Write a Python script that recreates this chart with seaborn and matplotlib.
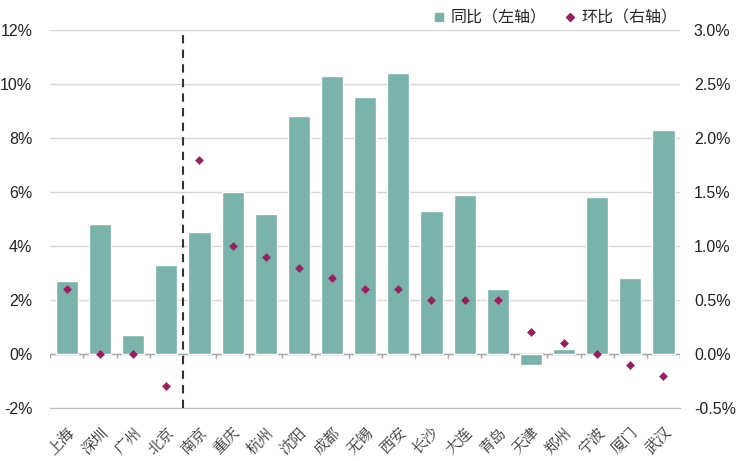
import numpy as np
import pandas as pd
import matplotlib
matplotlib.use("Agg")
import matplotlib.pyplot as plt
import seaborn as sns
from matplotlib.lines import Line2D

# 城市与数据（同比：左轴，环比：右轴，单位 %）
cities = ["上海", "深圳", "广州", "北京", "南京", "重庆", "杭州", "沈阳", "成都", "无锡",
          "西安", "长沙", "大连", "青岛", "天津", "郑州", "宁波", "厦门", "武汉"]
yoy = [2.7, 4.8, 0.7, 3.3, 4.5, 6.0, 5.2, 8.8, 10.3, 9.5,
       10.4, 5.3, 5.9, 2.4, -0.4, 0.2, 5.8, 2.8, 8.3]
mom = [0.6, 0.0, 0.0, -0.3, 1.8, 1.0, 0.9, 0.8, 0.7, 0.6,
       0.6, 0.5, 0.5, 0.5, 0.2, 0.1, 0.0, -0.1, -0.2]
left_ticks = [-2, 0, 2, 4, 6, 8, 10, 12]
right_ticks = [-0.5, 0.0, 0.5, 1.0, 1.5, 2.0, 2.5, 3.0]

df = pd.DataFrame({"city": cities, "yoy": yoy, "mom": mom})

bar_color = "#79B3A9"
dot_color = "#9B1F5C"

sns.set_style("white")
plt.rcParams["font.family"] = ["Liberation Sans", "Noto Sans CJK SC", "DejaVu Sans"]

fig = plt.figure(figsize=(7.4, 4.61), dpi=100)
ax = fig.add_axes([0.068, 0.115, 0.851, 0.82])

sns.barplot(data=df, x="city", y="yoy", color=bar_color, saturation=1, width=0.67, ax=ax, zorder=3)
ax.set_ylim(-2, 12)
ax.set_yticks(left_ticks)
ax.set_yticklabels([f"{t}%" for t in left_ticks], fontsize=11.5, color="#222222")
ax.yaxis.grid(True, color="#D6D6D6", linewidth=1)
ax.set_axisbelow(True)
ax.tick_params(axis="y", length=0, pad=13)
ax.tick_params(axis="x", length=0, pad=12)
ax.set_xlim(-0.5, len(cities) - 0.5)
ax.set_xlabel("")
ax.set_ylabel("")
plt.setp(ax.get_xticklabels(), rotation=45, ha="right", rotation_mode="anchor",
         fontsize=11, color="#333333", family=["Noto Serif CJK SC", "Noto Sans CJK SC", "DejaVu Sans"])
for s in ["top", "right", "left"]:
    ax.spines[s].set_visible(False)
ax.spines["bottom"].set_color("#BDBDBD")

# 零线及分隔刻度
ax.axhline(0, color="#A6A6A6", linewidth=1, zorder=2)
ax.vlines(np.arange(len(cities) + 1) - 0.5, -0.15, 0, color="#A6A6A6", linewidth=1, zorder=2)
# 分界虚线
ax.axvline(3.5, color="#333333", linestyle=(0, (4, 3)), linewidth=1.5, zorder=4)

ax2 = ax.twinx()
sns.stripplot(data=df, x="city", y="mom", jitter=False, marker="D", size=4.5,
              color=dot_color, ax=ax2, zorder=5)
ax2.set_ylim(-0.5, 3.0)
ax2.set_xlim(-0.5, len(cities) - 0.5)
ax2.set_yticks(right_ticks)
ax2.set_yticklabels([f"{t:.1f}%" for t in right_ticks], fontsize=11.5, color="#222222")
ax2.tick_params(axis="y", length=0, pad=10)
ax2.set_ylabel("")
ax2.set_xlabel("")
for s in ["top", "right", "left", "bottom"]:
    ax2.spines[s].set_visible(False)

handles = [
    Line2D([], [], marker="s", linestyle="", color=bar_color, markersize=6),
    Line2D([], [], marker="D", linestyle="", color=dot_color, markersize=4),
]
fig.legend(handles, ["同比（左轴）", "环比（右轴）"], ncol=2, frameon=False,
           loc="upper right", bbox_to_anchor=(0.935, 1.01),
           handletextpad=0.2, columnspacing=1.0, handlelength=1.0,
           prop={"family": ["Noto Sans CJK SC", "DejaVu Sans"], "size": 11.5})

fig.savefig("out.png", dpi=100)
